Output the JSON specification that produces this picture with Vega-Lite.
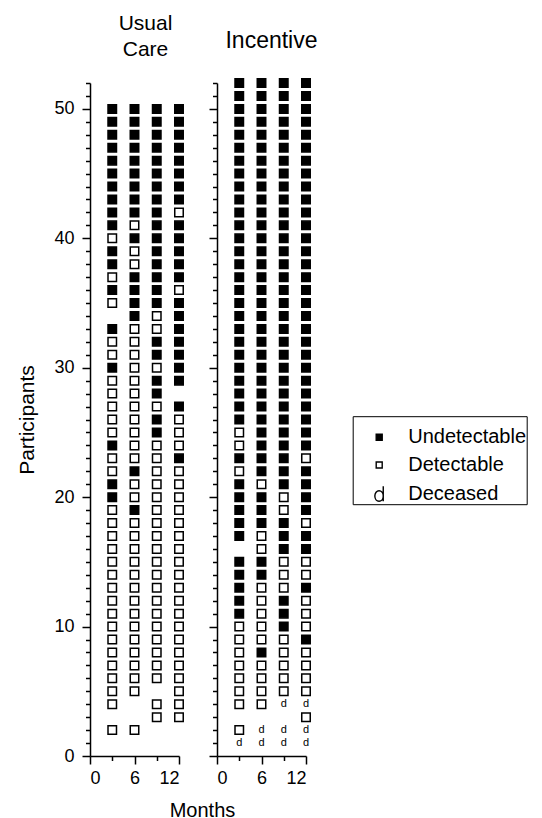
{
  "$schema": "https://vega.github.io/schema/vega-lite/v6.json",
  "padding": {"left": 16, "top": 13, "right": 0, "bottom": 2},
  "config": {
    "font": "Liberation Sans",
    "view": {"stroke": null},
    "title": {"fontWeight": "normal", "fontSize": 20, "color": "black", "font": "Liberation Sans"},
    "axis": {"grid": false, "domainColor": "black", "tickColor": "black", "labelColor": "black", "titleColor": "black", "domainWidth": 1.5, "tickWidth": 1.5, "labelFontSize": 18, "titleFontSize": 20, "titleFontWeight": "normal", "labelFont": "Liberation Sans", "titleFont": "Liberation Sans"},
    "legend": {"titleFontSize": 6, "titlePadding": 5, "orient": "none", "legendX": 262.7, "legendY": 333.2, "strokeColor": "black", "padding": 0, "symbolOffset": 16.5, "labelOffset": 19, "rowPadding": 7.8, "labelFontSize": 20, "labelColor": "black", "labelFont": "Liberation Sans", "symbolSize": 36, "symbolStrokeWidth": 1.4, "symbolStrokeColor": "black"}
  },
  "datasets": {
    "uc": [
      {"m":3,"p":50,"s":"U"},{"m":3,"p":49,"s":"U"},{"m":3,"p":48,"s":"U"},{"m":3,"p":47,"s":"U"},{"m":3,"p":46,"s":"U"},{"m":3,"p":45,"s":"U"},{"m":3,"p":44,"s":"U"},{"m":3,"p":43,"s":"U"},{"m":3,"p":42,"s":"U"},{"m":3,"p":41,"s":"U"},{"m":3,"p":40,"s":"D"},{"m":3,"p":39,"s":"U"},{"m":3,"p":38,"s":"U"},{"m":3,"p":37,"s":"D"},{"m":3,"p":36,"s":"U"},{"m":3,"p":35,"s":"D"},{"m":3,"p":33,"s":"U"},{"m":3,"p":32,"s":"D"},{"m":3,"p":31,"s":"D"},{"m":3,"p":30,"s":"U"},{"m":3,"p":29,"s":"D"},{"m":3,"p":28,"s":"D"},{"m":3,"p":27,"s":"D"},{"m":3,"p":26,"s":"D"},{"m":3,"p":25,"s":"D"},{"m":3,"p":24,"s":"U"},{"m":3,"p":23,"s":"D"},{"m":3,"p":22,"s":"D"},{"m":3,"p":21,"s":"U"},{"m":3,"p":20,"s":"U"},{"m":3,"p":19,"s":"D"},{"m":3,"p":18,"s":"D"},{"m":3,"p":17,"s":"D"},{"m":3,"p":16,"s":"D"},{"m":3,"p":15,"s":"D"},{"m":3,"p":14,"s":"D"},{"m":3,"p":13,"s":"D"},{"m":3,"p":12,"s":"D"},{"m":3,"p":11,"s":"D"},{"m":3,"p":10,"s":"D"},{"m":3,"p":9,"s":"D"},{"m":3,"p":8,"s":"D"},{"m":3,"p":7,"s":"D"},{"m":3,"p":6,"s":"D"},{"m":3,"p":5,"s":"D"},{"m":3,"p":4,"s":"D"},{"m":3,"p":2,"s":"D"},
      {"m":6,"p":50,"s":"U"},{"m":6,"p":49,"s":"U"},{"m":6,"p":48,"s":"U"},{"m":6,"p":47,"s":"U"},{"m":6,"p":46,"s":"U"},{"m":6,"p":45,"s":"U"},{"m":6,"p":44,"s":"U"},{"m":6,"p":43,"s":"U"},{"m":6,"p":42,"s":"U"},{"m":6,"p":41,"s":"D"},{"m":6,"p":40,"s":"U"},{"m":6,"p":39,"s":"D"},{"m":6,"p":38,"s":"D"},{"m":6,"p":37,"s":"U"},{"m":6,"p":36,"s":"U"},{"m":6,"p":35,"s":"U"},{"m":6,"p":34,"s":"U"},{"m":6,"p":33,"s":"D"},{"m":6,"p":32,"s":"D"},{"m":6,"p":31,"s":"D"},{"m":6,"p":30,"s":"D"},{"m":6,"p":29,"s":"D"},{"m":6,"p":28,"s":"D"},{"m":6,"p":27,"s":"D"},{"m":6,"p":26,"s":"D"},{"m":6,"p":25,"s":"D"},{"m":6,"p":24,"s":"D"},{"m":6,"p":23,"s":"D"},{"m":6,"p":22,"s":"U"},{"m":6,"p":21,"s":"D"},{"m":6,"p":20,"s":"D"},{"m":6,"p":19,"s":"U"},{"m":6,"p":18,"s":"D"},{"m":6,"p":17,"s":"D"},{"m":6,"p":16,"s":"D"},{"m":6,"p":15,"s":"D"},{"m":6,"p":14,"s":"D"},{"m":6,"p":13,"s":"D"},{"m":6,"p":12,"s":"D"},{"m":6,"p":11,"s":"D"},{"m":6,"p":10,"s":"D"},{"m":6,"p":9,"s":"D"},{"m":6,"p":8,"s":"D"},{"m":6,"p":7,"s":"D"},{"m":6,"p":6,"s":"D"},{"m":6,"p":5,"s":"D"},{"m":6,"p":2,"s":"D"},
      {"m":9,"p":50,"s":"U"},{"m":9,"p":49,"s":"U"},{"m":9,"p":48,"s":"U"},{"m":9,"p":47,"s":"U"},{"m":9,"p":46,"s":"U"},{"m":9,"p":45,"s":"U"},{"m":9,"p":44,"s":"U"},{"m":9,"p":43,"s":"U"},{"m":9,"p":42,"s":"U"},{"m":9,"p":41,"s":"U"},{"m":9,"p":40,"s":"U"},{"m":9,"p":39,"s":"U"},{"m":9,"p":38,"s":"U"},{"m":9,"p":37,"s":"U"},{"m":9,"p":36,"s":"U"},{"m":9,"p":35,"s":"U"},{"m":9,"p":34,"s":"D"},{"m":9,"p":33,"s":"D"},{"m":9,"p":32,"s":"U"},{"m":9,"p":31,"s":"U"},{"m":9,"p":30,"s":"D"},{"m":9,"p":29,"s":"U"},{"m":9,"p":28,"s":"U"},{"m":9,"p":27,"s":"D"},{"m":9,"p":26,"s":"U"},{"m":9,"p":25,"s":"U"},{"m":9,"p":24,"s":"D"},{"m":9,"p":23,"s":"D"},{"m":9,"p":22,"s":"D"},{"m":9,"p":21,"s":"D"},{"m":9,"p":20,"s":"D"},{"m":9,"p":19,"s":"D"},{"m":9,"p":18,"s":"D"},{"m":9,"p":17,"s":"D"},{"m":9,"p":16,"s":"D"},{"m":9,"p":15,"s":"D"},{"m":9,"p":14,"s":"D"},{"m":9,"p":13,"s":"D"},{"m":9,"p":12,"s":"D"},{"m":9,"p":11,"s":"D"},{"m":9,"p":10,"s":"D"},{"m":9,"p":9,"s":"D"},{"m":9,"p":8,"s":"D"},{"m":9,"p":7,"s":"D"},{"m":9,"p":6,"s":"D"},{"m":9,"p":4,"s":"D"},{"m":9,"p":3,"s":"D"},
      {"m":12,"p":50,"s":"U"},{"m":12,"p":49,"s":"U"},{"m":12,"p":48,"s":"U"},{"m":12,"p":47,"s":"U"},{"m":12,"p":46,"s":"U"},{"m":12,"p":45,"s":"U"},{"m":12,"p":44,"s":"U"},{"m":12,"p":43,"s":"U"},{"m":12,"p":42,"s":"D"},{"m":12,"p":41,"s":"U"},{"m":12,"p":40,"s":"U"},{"m":12,"p":39,"s":"U"},{"m":12,"p":38,"s":"U"},{"m":12,"p":37,"s":"U"},{"m":12,"p":36,"s":"D"},{"m":12,"p":35,"s":"U"},{"m":12,"p":34,"s":"U"},{"m":12,"p":33,"s":"U"},{"m":12,"p":32,"s":"U"},{"m":12,"p":31,"s":"U"},{"m":12,"p":30,"s":"U"},{"m":12,"p":29,"s":"U"},{"m":12,"p":27,"s":"U"},{"m":12,"p":26,"s":"D"},{"m":12,"p":25,"s":"D"},{"m":12,"p":24,"s":"D"},{"m":12,"p":23,"s":"U"},{"m":12,"p":22,"s":"D"},{"m":12,"p":21,"s":"D"},{"m":12,"p":20,"s":"D"},{"m":12,"p":19,"s":"D"},{"m":12,"p":18,"s":"D"},{"m":12,"p":17,"s":"D"},{"m":12,"p":16,"s":"D"},{"m":12,"p":15,"s":"D"},{"m":12,"p":14,"s":"D"},{"m":12,"p":13,"s":"D"},{"m":12,"p":12,"s":"D"},{"m":12,"p":11,"s":"D"},{"m":12,"p":10,"s":"D"},{"m":12,"p":9,"s":"D"},{"m":12,"p":8,"s":"D"},{"m":12,"p":7,"s":"D"},{"m":12,"p":6,"s":"D"},{"m":12,"p":5,"s":"D"},{"m":12,"p":4,"s":"D"},{"m":12,"p":3,"s":"D"}
    ],
    "inc": [
      {"m":3,"p":52,"s":"U"},{"m":3,"p":51,"s":"U"},{"m":3,"p":50,"s":"U"},{"m":3,"p":49,"s":"U"},{"m":3,"p":48,"s":"U"},{"m":3,"p":47,"s":"U"},{"m":3,"p":46,"s":"U"},{"m":3,"p":45,"s":"U"},{"m":3,"p":44,"s":"U"},{"m":3,"p":43,"s":"U"},{"m":3,"p":42,"s":"U"},{"m":3,"p":41,"s":"U"},{"m":3,"p":40,"s":"U"},{"m":3,"p":39,"s":"U"},{"m":3,"p":38,"s":"U"},{"m":3,"p":37,"s":"U"},{"m":3,"p":36,"s":"U"},{"m":3,"p":35,"s":"U"},{"m":3,"p":34,"s":"U"},{"m":3,"p":33,"s":"U"},{"m":3,"p":32,"s":"U"},{"m":3,"p":31,"s":"U"},{"m":3,"p":30,"s":"U"},{"m":3,"p":29,"s":"U"},{"m":3,"p":28,"s":"U"},{"m":3,"p":27,"s":"U"},{"m":3,"p":26,"s":"U"},{"m":3,"p":25,"s":"D"},{"m":3,"p":24,"s":"D"},{"m":3,"p":23,"s":"U"},{"m":3,"p":22,"s":"D"},{"m":3,"p":21,"s":"U"},{"m":3,"p":20,"s":"U"},{"m":3,"p":19,"s":"U"},{"m":3,"p":18,"s":"U"},{"m":3,"p":17,"s":"U"},{"m":3,"p":15,"s":"U"},{"m":3,"p":14,"s":"U"},{"m":3,"p":13,"s":"U"},{"m":3,"p":12,"s":"U"},{"m":3,"p":11,"s":"U"},{"m":3,"p":10,"s":"D"},{"m":3,"p":9,"s":"D"},{"m":3,"p":8,"s":"D"},{"m":3,"p":7,"s":"D"},{"m":3,"p":6,"s":"D"},{"m":3,"p":5,"s":"D"},{"m":3,"p":4,"s":"D"},{"m":3,"p":2,"s":"D"},{"m":3,"p":1,"s":"X"},
      {"m":6,"p":52,"s":"U"},{"m":6,"p":51,"s":"U"},{"m":6,"p":50,"s":"U"},{"m":6,"p":49,"s":"U"},{"m":6,"p":48,"s":"U"},{"m":6,"p":47,"s":"U"},{"m":6,"p":46,"s":"U"},{"m":6,"p":45,"s":"U"},{"m":6,"p":44,"s":"U"},{"m":6,"p":43,"s":"U"},{"m":6,"p":42,"s":"U"},{"m":6,"p":41,"s":"U"},{"m":6,"p":40,"s":"U"},{"m":6,"p":39,"s":"U"},{"m":6,"p":38,"s":"U"},{"m":6,"p":37,"s":"U"},{"m":6,"p":36,"s":"U"},{"m":6,"p":35,"s":"U"},{"m":6,"p":34,"s":"U"},{"m":6,"p":33,"s":"U"},{"m":6,"p":32,"s":"U"},{"m":6,"p":31,"s":"U"},{"m":6,"p":30,"s":"U"},{"m":6,"p":29,"s":"U"},{"m":6,"p":28,"s":"U"},{"m":6,"p":27,"s":"U"},{"m":6,"p":26,"s":"U"},{"m":6,"p":25,"s":"U"},{"m":6,"p":24,"s":"U"},{"m":6,"p":23,"s":"U"},{"m":6,"p":22,"s":"U"},{"m":6,"p":21,"s":"D"},{"m":6,"p":20,"s":"U"},{"m":6,"p":19,"s":"U"},{"m":6,"p":18,"s":"U"},{"m":6,"p":17,"s":"D"},{"m":6,"p":16,"s":"D"},{"m":6,"p":15,"s":"U"},{"m":6,"p":14,"s":"U"},{"m":6,"p":13,"s":"D"},{"m":6,"p":12,"s":"D"},{"m":6,"p":11,"s":"D"},{"m":6,"p":10,"s":"D"},{"m":6,"p":9,"s":"D"},{"m":6,"p":8,"s":"U"},{"m":6,"p":7,"s":"D"},{"m":6,"p":6,"s":"D"},{"m":6,"p":5,"s":"D"},{"m":6,"p":4,"s":"D"},{"m":6,"p":2,"s":"X"},{"m":6,"p":1,"s":"X"},
      {"m":9,"p":52,"s":"U"},{"m":9,"p":51,"s":"U"},{"m":9,"p":50,"s":"U"},{"m":9,"p":49,"s":"U"},{"m":9,"p":48,"s":"U"},{"m":9,"p":47,"s":"U"},{"m":9,"p":46,"s":"U"},{"m":9,"p":45,"s":"U"},{"m":9,"p":44,"s":"U"},{"m":9,"p":43,"s":"U"},{"m":9,"p":42,"s":"U"},{"m":9,"p":41,"s":"U"},{"m":9,"p":40,"s":"U"},{"m":9,"p":39,"s":"U"},{"m":9,"p":38,"s":"U"},{"m":9,"p":37,"s":"U"},{"m":9,"p":36,"s":"U"},{"m":9,"p":35,"s":"U"},{"m":9,"p":34,"s":"U"},{"m":9,"p":33,"s":"U"},{"m":9,"p":32,"s":"U"},{"m":9,"p":31,"s":"U"},{"m":9,"p":30,"s":"U"},{"m":9,"p":29,"s":"U"},{"m":9,"p":28,"s":"U"},{"m":9,"p":27,"s":"U"},{"m":9,"p":26,"s":"U"},{"m":9,"p":25,"s":"U"},{"m":9,"p":24,"s":"U"},{"m":9,"p":23,"s":"U"},{"m":9,"p":22,"s":"U"},{"m":9,"p":21,"s":"U"},{"m":9,"p":20,"s":"D"},{"m":9,"p":19,"s":"D"},{"m":9,"p":18,"s":"U"},{"m":9,"p":17,"s":"U"},{"m":9,"p":16,"s":"U"},{"m":9,"p":15,"s":"D"},{"m":9,"p":14,"s":"D"},{"m":9,"p":13,"s":"D"},{"m":9,"p":12,"s":"U"},{"m":9,"p":11,"s":"U"},{"m":9,"p":10,"s":"U"},{"m":9,"p":9,"s":"D"},{"m":9,"p":8,"s":"D"},{"m":9,"p":7,"s":"D"},{"m":9,"p":6,"s":"D"},{"m":9,"p":5,"s":"D"},{"m":9,"p":4,"s":"X"},{"m":9,"p":2,"s":"X"},{"m":9,"p":1,"s":"X"},
      {"m":12,"p":52,"s":"U"},{"m":12,"p":51,"s":"U"},{"m":12,"p":50,"s":"U"},{"m":12,"p":49,"s":"U"},{"m":12,"p":48,"s":"U"},{"m":12,"p":47,"s":"U"},{"m":12,"p":46,"s":"U"},{"m":12,"p":45,"s":"U"},{"m":12,"p":44,"s":"U"},{"m":12,"p":43,"s":"U"},{"m":12,"p":42,"s":"U"},{"m":12,"p":41,"s":"U"},{"m":12,"p":40,"s":"U"},{"m":12,"p":39,"s":"U"},{"m":12,"p":38,"s":"U"},{"m":12,"p":37,"s":"U"},{"m":12,"p":36,"s":"U"},{"m":12,"p":35,"s":"U"},{"m":12,"p":34,"s":"U"},{"m":12,"p":33,"s":"U"},{"m":12,"p":32,"s":"U"},{"m":12,"p":31,"s":"U"},{"m":12,"p":30,"s":"U"},{"m":12,"p":29,"s":"U"},{"m":12,"p":28,"s":"U"},{"m":12,"p":27,"s":"U"},{"m":12,"p":26,"s":"U"},{"m":12,"p":25,"s":"U"},{"m":12,"p":24,"s":"U"},{"m":12,"p":23,"s":"D"},{"m":12,"p":22,"s":"U"},{"m":12,"p":21,"s":"U"},{"m":12,"p":20,"s":"U"},{"m":12,"p":19,"s":"U"},{"m":12,"p":18,"s":"D"},{"m":12,"p":17,"s":"U"},{"m":12,"p":16,"s":"U"},{"m":12,"p":15,"s":"D"},{"m":12,"p":14,"s":"D"},{"m":12,"p":13,"s":"U"},{"m":12,"p":12,"s":"D"},{"m":12,"p":11,"s":"D"},{"m":12,"p":10,"s":"D"},{"m":12,"p":9,"s":"U"},{"m":12,"p":8,"s":"D"},{"m":12,"p":7,"s":"D"},{"m":12,"p":6,"s":"D"},{"m":12,"p":5,"s":"D"},{"m":12,"p":4,"s":"X"},{"m":12,"p":3,"s":"D"},{"m":12,"p":2,"s":"X"},{"m":12,"p":1,"s":"X"}
    ]
  },
  "bounds": "flush",
  "spacing": 38,
  "resolve": {"scale": {"shape": "shared", "fill": "shared", "stroke": "shared"}, "legend": {"shape": "shared", "fill": "shared", "stroke": "shared"}},
  "hconcat": [
    {
      "width": 89,
      "height": 673,
      "title": {"text": ["Usual", "Care"], "fontSize": 21, "lineHeight": 26, "offset": 22, "frame": "group", "dx": 11, "anchor": "middle"},
      "data": {"name": "uc"},
      "mark": {"type": "point", "filled": false, "strokeWidth": 1.5, "size": 72, "opacity": 1},
      "encoding": {
        "x": {"field": "m", "type": "quantitative", "scale": {"domain": [0, 12], "nice": false},
          "axis": {"values": [0, 3, 6, 9, 12], "labelExpr": "datum.value % 6 === 0 ? datum.label : ''", "tickSize": {"condition": {"test": "datum.value % 6 === 0", "value": 8}, "value": 4.5}, "labelPadding": 5, "title": "Months", "titleX": 112, "titleY": 60, "titleBaseline": "alphabetic", "titleAlign": "center"}},
        "y": {"field": "p", "type": "quantitative", "scale": {"domain": [0, 52], "nice": false},
          "axis": {"values": [0,1,2,3,4,5,6,7,8,9,10,11,12,13,14,15,16,17,18,19,20,21,22,23,24,25,26,27,28,29,30,31,32,33,34,35,36,37,38,39,40,41,42,43,44,45,46,47,48,49,50,51,52], "labelExpr": "datum.value % 10 === 0 ? datum.label : ''", "tickSize": {"condition": {"test": "datum.value % 10 === 0", "value": 8}, "value": 4.5}, "labelPadding": 8, "title": "Participants", "titleFontSize": 21, "titlePadding": 16}},
        "shape": {"field": "s", "type": "nominal", "scale": {"domain": ["U", "D", "X"], "range": ["square", "square", "M1.35,-2.5L1.35,2.5M1.35,0.73A1.4,1.77,0,1,1,-1.45,0.73A1.4,1.77,0,1,1,1.35,0.73Z"]},
          "legend": {"title": " ", "labelExpr": "datum.value === 'U' ? 'Undetectable' : datum.value === 'D' ? 'Detectable' : 'Deceased'"}},
        "fill": {"field": "s", "type": "nominal", "scale": {"domain": ["U", "D", "X"], "range": ["black", "white", "transparent"]},
          "legend": {"title": " ", "labelExpr": "datum.value === 'U' ? 'Undetectable' : datum.value === 'D' ? 'Detectable' : 'Deceased'"}},
        "stroke": {"field": "s", "type": "nominal", "scale": {"domain": ["U", "D", "X"], "range": ["black", "black", "black"]},
          "legend": {"title": " ", "labelExpr": "datum.value === 'U' ? 'Undetectable' : datum.value === 'D' ? 'Detectable' : 'Deceased'"}}
      }
    },
    {
      "width": 89,
      "height": 673,
      "title": {"text": "Incentive", "fontSize": 23, "offset": 23, "frame": "group", "dx": 10, "anchor": "middle"},
      "data": {"name": "inc"},
      "encoding": {
        "x": {"field": "m", "type": "quantitative", "scale": {"domain": [0, 12], "nice": false},
          "axis": {"values": [0, 3, 6, 9, 12], "labelExpr": "datum.value % 6 === 0 ? datum.label : ''", "tickSize": {"condition": {"test": "datum.value % 6 === 0", "value": 8}, "value": 4.5}, "labelPadding": 5, "title": null}},
        "y": {"field": "p", "type": "quantitative", "scale": {"domain": [0, 52], "nice": false},
          "axis": {"values": [0,1,2,3,4,5,6,7,8,9,10,11,12,13,14,15,16,17,18,19,20,21,22,23,24,25,26,27,28,29,30,31,32,33,34,35,36,37,38,39,40,41,42,43,44,45,46,47,48,49,50,51,52], "labels": false, "tickSize": {"condition": {"test": "datum.value % 10 === 0", "value": 8}, "value": 4.5}, "title": null}}
      },
      "layer": [
        {
          "transform": [{"filter": "datum.s !== 'X'"}],
          "mark": {"type": "point", "filled": false, "strokeWidth": 1.5, "size": 72, "opacity": 1},
          "encoding": {
            "shape": {"field": "s", "type": "nominal", "scale": {"domain": ["U", "D", "X"], "range": ["square", "square", "M1.35,-2.5L1.35,2.5M1.35,0.73A1.4,1.77,0,1,1,-1.45,0.73A1.4,1.77,0,1,1,1.35,0.73Z"]}, "legend": null},
            "fill": {"field": "s", "type": "nominal", "scale": {"domain": ["U", "D", "X"], "range": ["black", "white", "transparent"]}, "legend": null},
            "stroke": {"field": "s", "type": "nominal", "scale": {"domain": ["U", "D", "X"], "range": ["black", "black", "black"]}, "legend": null}
          }
        },
        {
          "transform": [{"filter": "datum.s === 'X'"}],
          "mark": {"type": "text", "text": "d", "fontSize": 11, "fill": "black", "baseline": "middle", "align": "center", "font": "Liberation Sans"},
          "encoding": {}
        }
      ]
    }
  ]
}
